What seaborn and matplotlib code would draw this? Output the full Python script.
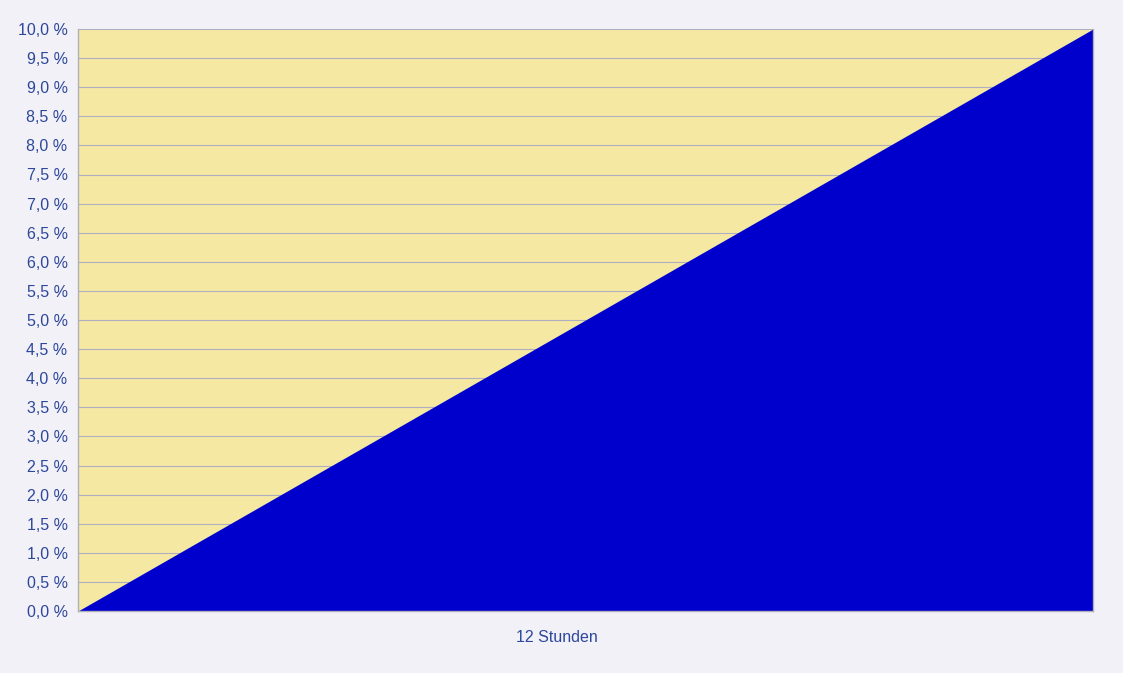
import numpy as np
import pandas as pd
import matplotlib
matplotlib.use('Agg')
import matplotlib.pyplot as plt
import seaborn as sns

# data
positions = [0, 1]
percent = [0.0, 10.0]
category = '12 Stunden'
yticks = [i * 0.5 for i in range(21)]

df = pd.DataFrame({'pos': positions, 'value': percent})

sns.set_style('white')
plt.rcParams['font.family'] = ['Liberation Sans', 'DejaVu Sans']

txt = '#2d479b'
fig = plt.figure(figsize=(11.23, 6.73), dpi=100, facecolor='#f2f1f8')
ax = fig.add_axes([78 / 1123, 62 / 673, 1015 / 1123, 582 / 673])
ax.set_facecolor('#f5e8a3')

sns.lineplot(data=df, x='pos', y='value', ax=ax, color='#0000cc', linewidth=0)
ax.fill_between(df['pos'], df['value'], 0, color='#0000cc', linewidth=0)

ax.set_xlim(0, 1)
ax.set_ylim(0, 10)
ax.set_yticks(yticks)
ax.set_yticklabels([f'{v:.1f} %'.replace('.', ',') for v in yticks], color=txt, fontsize=11.5)
ax.set_xticks([0.472])
ax.set_xticklabels([category], color=txt, fontsize=11.5)
ax.tick_params(axis='y', length=6, color='#b0b0b8', width=1, pad=1.5)
ax.tick_params(axis='x', length=0, pad=14)
ax.grid(axis='y', color='#aeb0c0', linewidth=0.8)
ax.set_axisbelow(True)
ax.set_xlabel('')
ax.set_ylabel('')
for s in ['left', 'bottom', 'right', 'top']:
    ax.spines[s].set_color('#b0b0b8')
    ax.spines[s].set_linewidth(1)
ax.spines['top'].set_visible(False)

fig.savefig('out.png', dpi=100, facecolor=fig.get_facecolor())
